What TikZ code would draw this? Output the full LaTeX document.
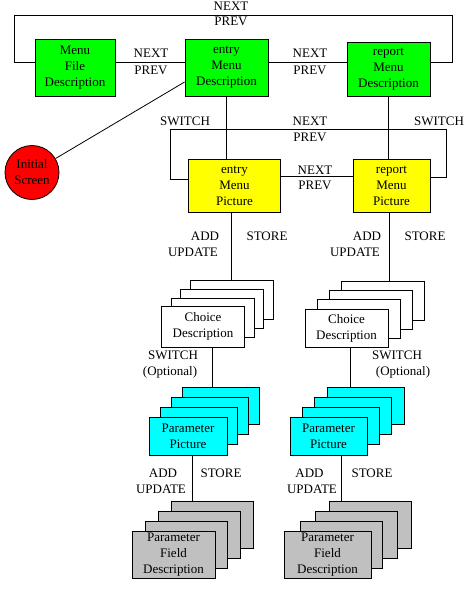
\documentclass[tikz,border=0pt]{standalone}
\usepackage{fontspec}
\setmainfont{Liberation Serif}
\definecolor{winsilver}{RGB}{192,192,192}
\definecolor{wingreen}{RGB}{0,255,0}
\definecolor{winyellow}{RGB}{255,255,0}
\definecolor{wincyan}{RGB}{0,255,255}
\definecolor{winred}{RGB}{255,0,0}
\tikzset{
  box/.style={draw, rectangle, align=center, inner sep=0pt},
  greenbox/.style={box, fill=wingreen},
  yellowbox/.style={box, fill=winyellow},
  whitebox/.style={box, fill=white, minimum width=83pt, minimum height=39pt},
  cyanbox/.style={box, fill=wincyan, minimum width=77pt, minimum height=37pt},
  greybox/.style={box, fill=winsilver, minimum width=82pt, minimum height=47pt},
  lbl/.style={inner sep=0pt}
}
\begin{document}
\begin{tikzpicture}[x=1pt, y=-1pt, line width=0.8pt, font=\fontsize{13}{16}\selectfont]
\useasboundingbox (0,0) rectangle (473,589);

% menu descriptions
\node[greenbox, minimum width=80pt, minimum height=57pt] (mfd) at (75,67.5) {Menu\\File\\Description};
\node[greenbox, minimum width=83pt, minimum height=57pt] (emd) at (226.5,67.5) {entry\\Menu\\Description};
\node[greenbox, minimum width=83pt, minimum height=54pt] (rmd) at (388.5,69) {report\\Menu\\Description};
\node[circle, draw, fill=winred, minimum size=54pt, inner sep=0pt, align=center] (init) at (32,172.5) {Initial\\Screen};

% menu pictures
\node[yellowbox, minimum width=92pt, minimum height=53pt] (emp) at (234.5,185.5) {entry\\Menu\\Picture};
\node[yellowbox, minimum width=77pt, minimum height=53pt] (rmp) at (391.5,185.5) {report\\Menu\\Picture};

% choice descriptions
\foreach \i in {3,2,1}
  \node[whitebox] (cdL\i) at (203+9.5*\i,326.5-9*\i) {};
\node[whitebox, minimum height=41pt] (cdL) at (203,326.5) {Choice\\Description};
\foreach \i in {3,2,1}
  \node[whitebox] (cdR\i) at (346.5+12*\i,328-9*\i) {};
\node[whitebox, minimum height=38pt] (cdR) at (346.5,328) {Choice\\Description};

% parameter pictures
\foreach \i in {3,2,1}
  \node[cyanbox] (ppL\i) at (188+11*\i,436-10*\i) {};
\node[cyanbox, minimum width=78pt, minimum height=38pt] (ppL) at (188,436) {Parameter\\Picture};
\foreach \i in {3,2,1}
  \node[cyanbox] (ppR\i) at (328.5+12.3*\i,436-10*\i) {};
\node[cyanbox, minimum height=38pt] (ppR) at (328.5,436) {Parameter\\Picture};

% parameter field descriptions
\foreach \i in {3,2,1}
  \node[greybox] (pfL\i) at (173.5+13*\i,554.5-10*\i) {};
\node[greybox, minimum width=83pt] (pfL) at (173.5,554.5) {Parameter\\Field\\Description};
\foreach \i in {3,2,1}
  \node[greybox] (pfR\i) at (327.5+14.3*\i,554.5-10*\i) {};
\node[greybox, minimum width=87pt] (pfR) at (327.5,554.5) {Parameter\\Field\\Description};

% loops
\coordinate (tl) at (14,15);
\coordinate (tr) at (452,15);
\coordinate (ml) at (170,129);
\coordinate (mr) at (446,129);
\draw ([yshift=5.5pt]mfd.west) -| (tl) -- (tr) |- ([yshift=7pt]rmd.east);
\draw ([yshift=6.5pt]emp.west) -| (ml) -- (mr) |- ([yshift=8.5pt]rmp.east);

% connectors
\draw ([yshift=5.5pt]mfd.east) -- ([yshift=5.5pt]emd.west);
\draw ([yshift=5.5pt]emd.east) -- ([yshift=7pt]rmd.west);
\draw (init) -- ([yshift=-14.5pt]emd.west);
\draw (emd.south) -- (emd.south |- emp.north);
\draw (rmd.south) -- (rmd.south |- rmp.north);
\draw ([yshift=9.5pt]emp.east) -- ([yshift=9.5pt]rmp.west);
\draw (cdL3.north |- emp.south) -- (cdL3.north);
\draw ([xshift=-2.5pt]rmp.south) -- ([xshift=-2.5pt]rmp.south |- cdR3.north);
\draw ([xshift=9pt]cdL.south) -- ([xshift=9pt]cdL.south |- ppL3.north);
\draw ([xshift=3.5pt]cdR.south) -- ([xshift=3.5pt]cdR.south |- ppR3.north);
\draw ([xshift=4pt]ppL.south) -- ([xshift=4pt]ppL.south |- pfL3.north);
\draw ([xshift=12.5pt]ppR.south) -- ([xshift=12.5pt]ppR.south |- pfR3.north);

% labels
\node[lbl] (n1) at (231,6) {NEXT};
\node[lbl] (p1) at (231,21.5) {PREV};
\node[lbl] (n2) at (151,53.5) {NEXT};
\node[lbl] (p2) at (151,70) {PREV};
\node[lbl] (n3) at (310,53.5) {NEXT};
\node[lbl] (p3) at (310,70) {PREV};
\node[lbl] (s1) at (185,121.5) {SWITCH};
\node[lbl] (n4) at (310,121.5) {NEXT};
\node[lbl] (p4) at (310,137.5) {PREV};
\node[lbl] (s2) at (439,121.5) {SWITCH};
\node[lbl] (n5) at (315,170) {NEXT};
\node[lbl] (p5) at (315,185.5) {PREV};
\node[lbl] (a1) at (205,236) {ADD};
\node[lbl] (u1) at (193,252) {UPDATE};
\node[lbl] (st1) at (267,236) {STORE};
\node[lbl] (a2) at (367,236) {ADD};
\node[lbl] (u2) at (355,252) {UPDATE};
\node[lbl] (st2) at (425,236) {STORE};
\node[lbl] (s3) at (173,355) {SWITCH};
\node[lbl] (o1) at (170,372) {(Optional)};
\node[lbl] (s4) at (397,355) {SWITCH};
\node[lbl] (o2) at (403,372) {(Optional)};
\node[lbl] (a3) at (163,473) {ADD};
\node[lbl] (u3) at (161,489) {UPDATE};
\node[lbl] (st3) at (221,473) {STORE};
\node[lbl] (a4) at (309.5,473) {ADD};
\node[lbl] (u4) at (312,489) {UPDATE};
\node[lbl] (st4) at (372,473) {STORE};
\end{tikzpicture}
\end{document}
